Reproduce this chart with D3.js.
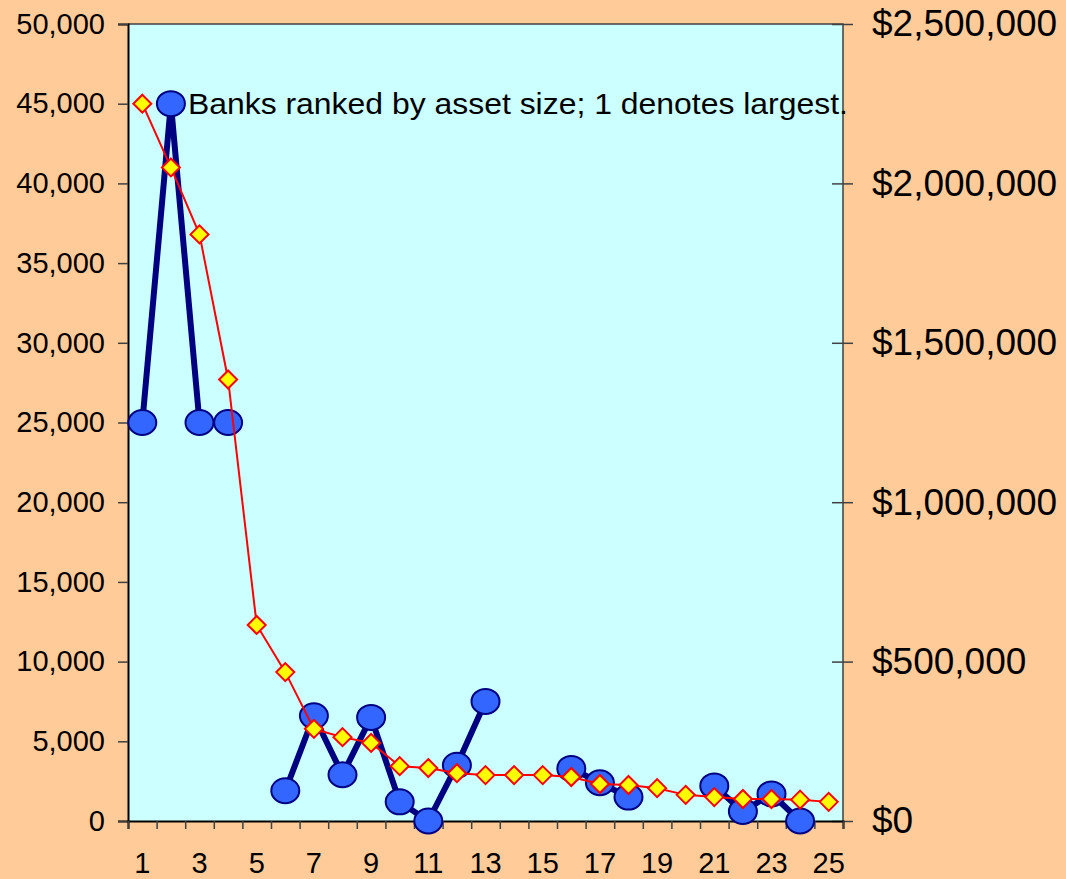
<!DOCTYPE html>
<html>
<head>
<meta charset="utf-8">
<script src="https://d3js.org/d3.v7.min.js"></script>
<style>
  html, body { margin: 0; padding: 0; background: #FFCC99; }
  svg { display: block; }
</style>
</head>
<body>
<script>

// bank rank (1 = largest)
var ranks = d3.range(1, 26);

// left axis series - blue circles (null = no value)
var counts = [25000, 45000, 25000, 25000, null, 1900, 6600, 2900, 6500, 1200,
              0, 3500, 7500, null, null, 3300, 2400, 1500, null, null,
              2200, 600, 1700, 0, null];

// right axis series - red/yellow diamonds (assets, $)
var assets = [2250000, 2050000, 1840000, 1385000, 615000, 467000, 289000, 263000, 245000, 172000,
              166000, 150000, 144000, 144000, 144000, 138000, 116000, 113000, 103000, 82000,
              75000, 69000, 69000, 67000, 60000];

// tick values
var left_ticks = d3.range(0, 50001, 5000);
var right_ticks = d3.range(0, 2500001, 500000);
var x_label_ticks = ranks.filter(function(d){ return d % 2 == 1; });

var note_text = "Banks ranked by asset size; 1 denotes largest.";

// page size
var w = 1066;
var h = 879;

// plot area
var plot_left = 128, plot_right = 843, plot_top = 24, plot_bottom = 821;

var font = "'Liberation Sans', Arial, sans-serif";

var svg = d3.select("body").append("svg")
            .attr("width", w)
            .attr("height", h);

// peach background
svg.append("rect").attr("x", 0).attr("y", 0).attr("width", w).attr("height", h)
   .style("fill", "#FFCC99");

// scales
var x = d3.scaleBand().domain(ranks).range([plot_left, plot_right]).padding(0);
var x_edges = d3.scaleLinear().domain([0.5, 25.5]).range([plot_left, plot_right]);
var y_left = d3.scaleLinear().domain([0, 50000]).range([plot_bottom, plot_top]);
var y_right = d3.scaleLinear().domain([0, 2500000]).range([plot_bottom, plot_top]);

var cx = function(d){ return x(d) + x.bandwidth()/2; };

// plot background
svg.append("rect")
   .attr("x", plot_left).attr("y", plot_top)
   .attr("width", plot_right - plot_left).attr("height", plot_bottom - plot_top)
   .style("fill", "#CCFFFF");

// top and right border
svg.append("path")
   .attr("d", "M" + plot_left + "," + plot_top + "H" + plot_right + "V" + plot_bottom)
   .attr("fill", "none").attr("stroke", "#404040").attr("stroke-width", 1.5);

// left axis
var left_axis = svg.append("g")
   .attr("transform", "translate(" + plot_left + ",0)")
   .call(d3.axisLeft(y_left).tickValues(left_ticks).tickFormat(d3.format(","))
           .tickSize(10).tickPadding(13));
left_axis.select(".domain").attr("stroke", "#000").attr("stroke-width", 2);
left_axis.selectAll(".tick line").attr("stroke", "#404040").attr("stroke-width", 1.5);
left_axis.selectAll("text").attr("font-family", font).attr("font-size", 29).attr("fill", "#000");

// right axis - ticks cross the border line
var right_axis = svg.append("g")
   .attr("transform", "translate(" + (plot_right - 11) + ",0)")
   .call(d3.axisRight(y_right).tickValues(right_ticks).tickFormat(function(d){ return "$" + d3.format(",")(d); })
           .tickSize(21).tickPadding(19));
right_axis.select(".domain").remove();
right_axis.selectAll(".tick line").attr("stroke", "#404040").attr("stroke-width", 1.5);
right_axis.selectAll("text").attr("font-family", font).attr("font-size", 37).attr("fill", "#000");

// bottom axis - ticks at category edges
var bottom_ticks = svg.append("g")
   .attr("transform", "translate(0," + plot_bottom + ")")
   .call(d3.axisBottom(x_edges).tickValues(d3.range(0.5, 25.6, 1)).tickFormat("").tickSize(8));
bottom_ticks.select(".domain").attr("stroke", "#000").attr("stroke-width", 2);
bottom_ticks.selectAll(".tick line").attr("stroke", "#404040").attr("stroke-width", 1.5);

// bottom labels on odd ranks
var bottom_labels = svg.append("g")
   .attr("transform", "translate(0," + plot_bottom + ")")
   .call(d3.axisBottom(x).tickValues(x_label_ticks).tickSize(0).tickPadding(31));
bottom_labels.select(".domain").remove();
bottom_labels.selectAll("text").attr("font-family", font).attr("font-size", 29).attr("fill", "#000");

// blue series - thick navy line with gaps
var count_data = ranks.map(function(r, i){ return {rank: r, v: counts[i]}; });
var count_line = d3.line()
    .defined(function(d){ return d.v != null; })
    .x(function(d){ return cx(d.rank); })
    .y(function(d){ return y_left(d.v); });

svg.append("path").datum(count_data)
   .attr("d", count_line)
   .attr("fill", "none").attr("stroke", "#000080").attr("stroke-width", 6)
   .attr("stroke-linejoin", "round");

svg.selectAll(".count_pt").data(count_data.filter(function(d){ return d.v != null; }))
   .enter().append("ellipse")
   .attr("class", "count_pt")
   .attr("cx", function(d){ return cx(d.rank); })
   .attr("cy", function(d){ return y_left(d.v); })
   .attr("rx", 14).attr("ry", 12.5)
   .style("fill", "#3366FF").style("stroke", "#000080").style("stroke-width", 2);

// red series - thin red line with yellow diamonds
var asset_data = ranks.map(function(r, i){ return {rank: r, v: assets[i]}; });
var asset_line = d3.line()
    .x(function(d){ return cx(d.rank); })
    .y(function(d){ return y_right(d.v); });

svg.append("path").datum(asset_data)
   .attr("d", asset_line)
   .attr("fill", "none").attr("stroke", "#FF0000").attr("stroke-width", 2);

svg.selectAll(".asset_pt").data(asset_data)
   .enter().append("path")
   .attr("class", "asset_pt")
   .attr("transform", function(d){ return "translate(" + cx(d.rank) + "," + y_right(d.v) + ")"; })
   .attr("d", "M0,-9L9,0L0,9L-9,0Z")
   .style("fill", "#FFFF00").style("stroke", "#FF0000").style("stroke-width", 2);

// note text (stretched wide like the original)
svg.append("text")
   .attr("x", x(2) + x.bandwidth()/2 + 17)
   .attr("y", y_left(45000) + 10)
   .attr("font-family", font)
   .attr("font-size", 30)
   .attr("textLength", 660)
   .attr("lengthAdjust", "spacingAndGlyphs")
   .attr("fill", "#000")
   .text(note_text);

</script>
</body>
</html>
